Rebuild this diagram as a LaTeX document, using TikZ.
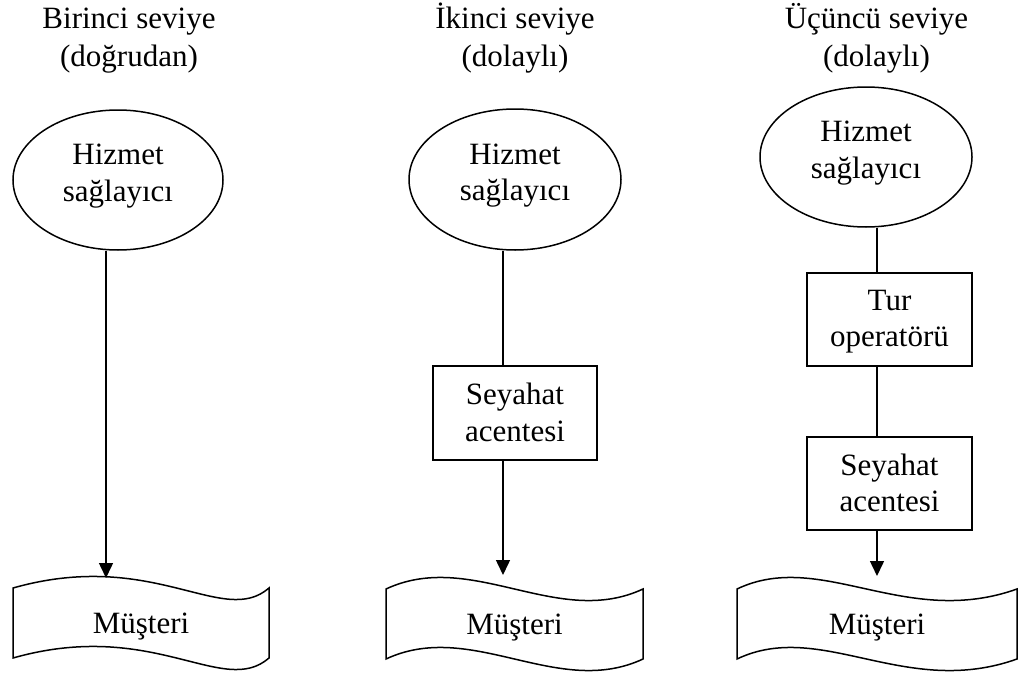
\documentclass[tikz,border=0pt]{standalone}
\usepackage{fontspec}
\setmainfont{Liberation Serif}
\usetikzlibrary{shapes.geometric,arrows.meta,calc}

% Wavy "tape" outline drawn around a (borderless) rectangular node.
% #1 node name, #2/#3 position of the two control points along the width.
\newcommand\tapeoutline[3]{%
  \draw[lw] (#1.north west)
    .. controls ($(#1.north west)!#2!(#1.north east)+(0,-40)$)
           and ($(#1.north west)!#3!(#1.north east)+(0,40)$) .. (#1.north east)
    -- (#1.south east)
    .. controls ($(#1.south west)!#3!(#1.south east)+(0,40)$)
           and ($(#1.south west)!#2!(#1.south east)+(0,-40)$) .. (#1.south west)
    -- cycle;}

\begin{document}
\begin{tikzpicture}[x=1pt,y=-1pt,
  every node/.style={font=\fontsize{31}{36.5}\selectfont, align=center},
  lw/.style={line width=1.5pt},
  title/.style={font=\fontsize{31}{38}\selectfont, text height=59pt, text depth=7pt},
  provider/.style={ellipse, draw, lw, inner sep=0pt, text depth=14.7pt},
  agent/.style={rectangle, draw, lw, inner sep=0pt, text depth=2pt},
  client/.style={rectangle, draw=none, inner sep=0pt, outer sep=0pt,
                 minimum height=70, text depth=0pt},
  link/.style={lw},
  arr/.style={lw, -{Triangle[width=14pt,length=15pt]}}]

\useasboundingbox (0,0) rectangle (1020,672);

% column headings
\node[title] (t1) at (129,40) {Birinci seviye\\(doğrudan)};
\node[title] (t2) at (515,40) {İkinci seviye\\(dolaylı)};
\node[title] (t3) at (876.5,40) {Üçüncü seviye\\(dolaylı)};

% x positions of the vertical connectors
\coordinate (x1) at (106,0);
\coordinate (x2) at (503,0);
\coordinate (x3) at (877,0);

% --- first level (direct)
\node[provider, minimum width=210, minimum height=140] (e1) at (118,180)
  {Hizmet\\sağlayıcı};
\node[client, minimum width=256] (m1) at (141,623) {Müşteri};
\tapeoutline{m1}{0.55}{0.82}
\draw[arr] (e1.south -| x1) -- ($(m1.north -| x1)+(0,-10)$);

% --- second level (indirect)
\node[provider, minimum width=212, minimum height=141] (e2) at (515,179.5)
  {Hizmet\\sağlayıcı};
\node[agent, minimum width=164, minimum height=94] (s2) at (515,413)
  {Seyahat\\acentesi};
\node[client, minimum width=257] (m2) at (514.5,624) {Müşteri};
\tapeoutline{m2}{0.3333}{0.6667}
\draw[link] (e2.south -| x2) -- (s2.north -| x2);
\draw[arr] (s2.south -| x2) -- ($(m2.north -| x2)+(0,-14)$);

% --- third level (indirect)
\node[provider, minimum width=212, minimum height=140] (e3) at (866,157)
  {Hizmet\\sağlayıcı};
\node[agent, minimum width=165, minimum height=93] (o3) at (889.5,319.5)
  {Tur\\operatörü};
\node[agent, minimum width=165, minimum height=93] (s3) at (889.5,483.5)
  {Seyahat\\acentesi};
\node[client, minimum width=280] (m3) at (877,624) {Müşteri};
\tapeoutline{m3}{0.3}{0.6}
\draw[link] (e3.south -| x3) -- (o3.north -| x3);
\draw[link] (o3.south -| x3) -- (s3.north -| x3);
\draw[arr] (s3.south -| x3) -- ($(m3.north -| x3)+(0,-13)$);

\end{tikzpicture}
\end{document}
